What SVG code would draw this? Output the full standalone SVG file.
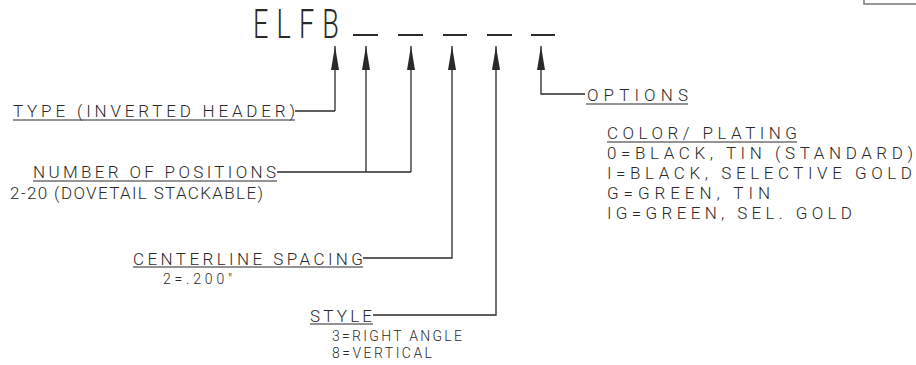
<svg xmlns="http://www.w3.org/2000/svg" width="916" height="365" viewBox="0 0 916 365">
<style>
.t{font-family:Roboto,"DejaVu Sans",sans-serif;font-weight:300;font-size:17px;fill:#2a2a2a;}
.s{font-family:Roboto,"DejaVu Sans",sans-serif;font-weight:300;font-size:14px;fill:#2a2a2a;}
.big{font-family:Roboto,"DejaVu Sans",sans-serif;font-weight:300;font-size:40px;letter-spacing:12px;fill:#2a2a2a;}
.ln{stroke:#2a2a2a;stroke-width:1.3;fill:none;}
.ul{stroke:#2a2a2a;stroke-width:1.2;fill:none;}
.bl{stroke:#2a2a2a;stroke-width:2;fill:none;}
</style>
<defs>
<marker id="ah" viewBox="0 0 24 8" refX="24" refY="4" markerWidth="24" markerHeight="8" markerUnits="userSpaceOnUse" orient="auto">
<path d="M24 4 L0 0 L0 8 Z" fill="#2a2a2a"/>
</marker>
</defs>
<rect width="916" height="365" fill="#ffffff"/>
<path d="M864 0 V4 H916" stroke="#777" stroke-width="1.5" fill="none"/>
<g id="part-number">
<text class="big" x="253" y="38" textLength="94" lengthAdjust="spacingAndGlyphs">ELFB</text>
<path class="bl" d="M353 35H378M398 35H423M443 35H467M487 35H512M531 35H555"/>
</g>
<g id="connectors">
<path class="ln" d="M335 111V46" marker-end="url(#ah)"/>
<path class="ln" d="M295 111H335"/>
<path class="ln" d="M366 172V46" marker-end="url(#ah)"/>
<path class="ln" d="M411 172V46" marker-end="url(#ah)"/>
<path class="ln" d="M277 172H411"/>
<path class="ln" d="M363 258H452V46" marker-end="url(#ah)"/>
<path class="ln" d="M373 315H496V46" marker-end="url(#ah)"/>
<path class="ln" d="M585 94H541V46" marker-end="url(#ah)"/>
</g>
<g id="type">
<text class="t" x="13" y="117" textLength="282" lengthAdjust="spacing">TYPE (INVERTED HEADER)</text>
<path class="ul" d="M13 120H295"/>
</g>
<g id="positions">
<text class="t" x="33" y="178" textLength="243" lengthAdjust="spacing">NUMBER OF POSITIONS</text>
<path class="ul" d="M33 181H277"/>
<text class="t" x="10" y="199" textLength="253" lengthAdjust="spacing">2-20 (DOVETAIL STACKABLE)</text>
</g>
<g id="spacing">
<text class="t" x="133" y="265" textLength="230" lengthAdjust="spacing">CENTERLINE SPACING</text>
<path class="ul" d="M133 267H363"/>
<text class="s" x="163" y="284" textLength="69" lengthAdjust="spacing">2=.200"</text>
</g>
<g id="style">
<text class="t" x="310" y="322" textLength="62" lengthAdjust="spacing">STYLE</text>
<path class="ul" d="M310 324H373"/>
<text class="s" x="332" y="341" textLength="130" lengthAdjust="spacing">3=RIGHT ANGLE</text>
<text class="s" x="332" y="358" textLength="100" lengthAdjust="spacing">8=VERTICAL</text>
</g>
<g id="options">
<text class="t" x="587" y="101" textLength="101" lengthAdjust="spacing">OPTIONS</text>
<path class="ul" d="M586 104H688"/>
<text class="t" x="607" y="139" textLength="190" lengthAdjust="spacing">COLOR/ PLATING</text>
<path class="ul" d="M607 142H797"/>
<text class="t" x="607" y="159" textLength="306" lengthAdjust="spacing">0=BLACK, TIN (STANDARD)</text>
<text class="t" x="607" y="179" textLength="305" lengthAdjust="spacing">I=BLACK, SELECTIVE GOLD</text>
<text class="t" x="607" y="199" textLength="163" lengthAdjust="spacing">G=GREEN, TIN</text>
<text class="t" x="607" y="219" textLength="245" lengthAdjust="spacing">IG=GREEN, SEL. GOLD</text>
</g>
</svg>
